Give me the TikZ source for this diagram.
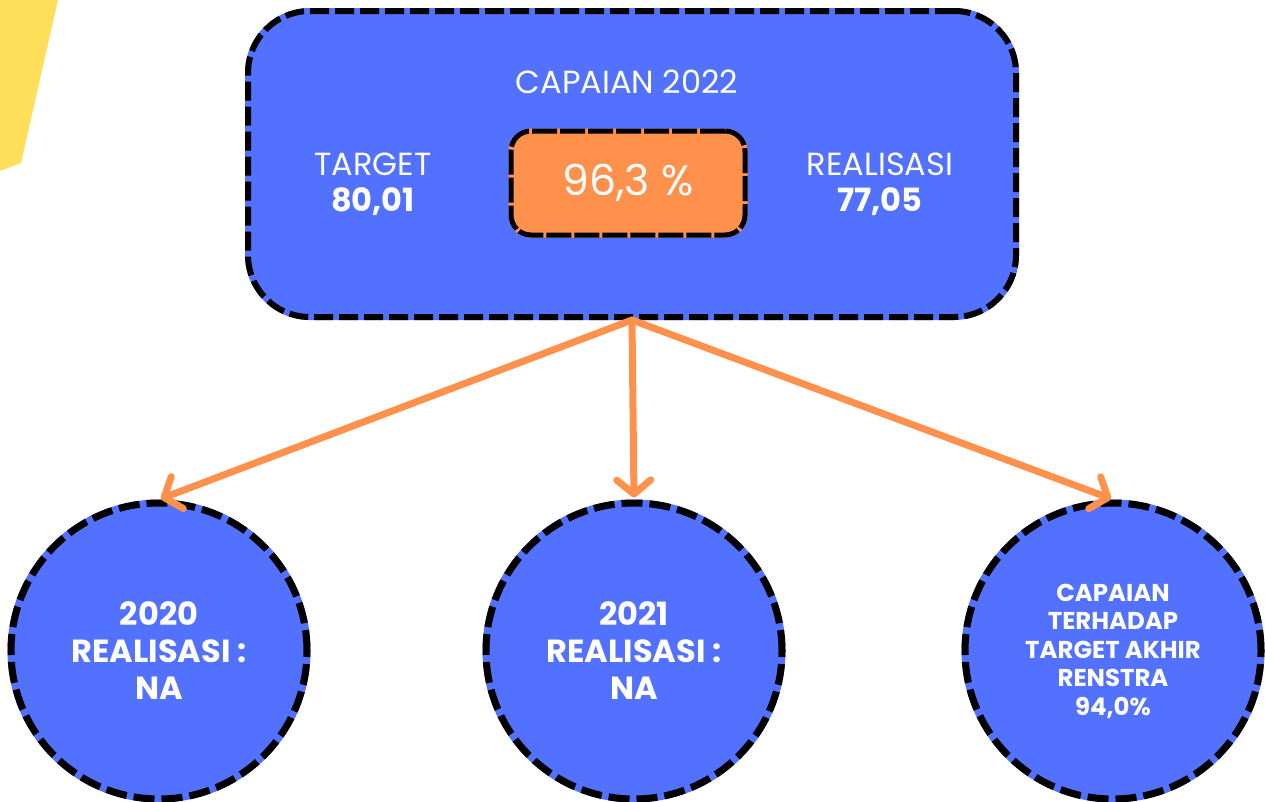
\documentclass[tikz,border=0pt]{standalone}
\usepackage{fontspec}
\setmainfont{Poppins}
\usepackage{tikz}
\usetikzlibrary{arrows.meta, positioning}
\definecolor{capblue}{HTML}{5271FF}
\definecolor{caporange}{HTML}{FF914D}
\definecolor{capyellow}{HTML}{FFDE59}
\tikzset{
  panel/.style={rectangle, rounded corners=62pt, fill=capblue, draw=black, line width=6pt,
                dash pattern=on 19pt off 6pt, preaction={draw=capblue, solid, line width=6pt},
                minimum width=768pt, minimum height=306pt},
  pct/.style={rectangle, rounded corners=20pt, fill=caporange, draw=black, line width=5pt,
              dash pattern=on 25pt off 3pt, preaction={draw=caporange, solid, line width=5pt},
              minimum width=234pt, minimum height=104pt, text=white,
              font=\fontsize{42.5}{50}\selectfont},
  yr/.style={circle, fill=capblue, draw=black, line width=7pt, minimum size=296pt,
             dash pattern=on 21pt off 7pt, preaction={draw=capblue, solid, line width=7pt},
             text=white, align=center, inner sep=0pt},
  fl/.style={-{Straight Barb[round, length=14pt, width=34pt]}, draw=caporange,
             line width=7pt, line cap=round, shorten >=2pt},
  lbl/.style={text=white, align=center, inner sep=0pt, font=\fontsize{32}{38}\selectfont},
  val/.style={text=white, align=center, inner sep=0pt, font=\fontsize{32}{38}\selectfont\bfseries}
}

\begin{document}
\begin{tikzpicture}[x=1pt, y=-1pt]
\useasboundingbox (0,0) rectangle (1265,801);
% yellow corner shape
\fill[capyellow] (0,0) -- (58,0) -- (21,163) -- (0,171) -- cycle;
% achievement panel
\node[panel] (panel) at (632,164) {};
\node[lbl] (title) at (627,82) {CAPAIAN 2022};
\node[pct] (pct) at (628,183) {96,3 \%};
\node[lbl] (tgt) at (373,164) {TARGET};
\node[val, below=12pt of tgt] (tgtval) {80,01};
\node[lbl] (real) at (880,164) {REALISASI};
\node[val, below=12pt of real] (realval) {77,05};
% yearly circles
\node[yr, font=\fontsize{32}{37}\selectfont\bfseries] (y20) at (159,651) {2020\\REALISASI :\\NA};
\node[yr, font=\fontsize{32}{37}\selectfont\bfseries] (y21) at (634,651) {2021\\REALISASI :\\NA};
\node[yr, font=\fontsize{24.4}{28.5}\selectfont\bfseries] (ren) at (1113,651) {CAPAIAN\\TERHADAP\\TARGET AKHIR\\RENSTRA\\94,0\%};
\draw[fl] (panel.south) -- (y20.north);
\draw[fl] (panel.south) -- (y21.north);
\draw[fl] (panel.south) -- (ren.north);
\end{tikzpicture}
\end{document}
